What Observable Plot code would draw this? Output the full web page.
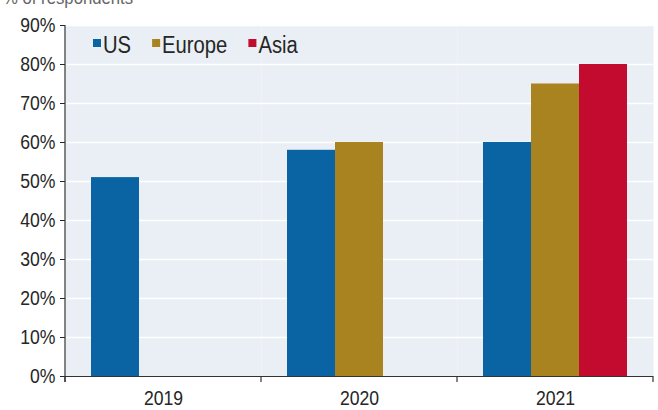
<!DOCTYPE html>
<html><head><meta charset="utf-8">
<script src="https://cdn.jsdelivr.net/npm/d3@7"></script>
<script src="https://cdn.jsdelivr.net/npm/@observablehq/plot@0.6"></script>
<style>
body{margin:0;background:#fff;}
#wrap{position:relative;width:658px;height:410px;overflow:hidden;font-family:"Liberation Sans",Arial,sans-serif;color:#333;}
#unit{position:absolute;left:3px;top:-12px;font-size:19px;line-height:20px;white-space:nowrap;color:#666;transform:scaleX(0.88);transform-origin:left top;}
</style></head><body><div id="wrap"><div id="unit"></div></div>
<script>
const years = ["2019", "2020", "2021"];
const series = ["US", "Europe", "Asia"];
const seriesColors = ["#0a64a4", "#a8831f", "#c20b2f"];
const usValues = [51, 58, 60];
const europeValues = [null, 60, 75];
const asiaValues = [null, null, 80];
const yTicks = [0, 10, 20, 30, 40, 50, 60, 70, 80, 90];
const unitLabel = "% of respondents";

const valuesBySeries = {US: usValues, Europe: europeValues, Asia: asiaValues};
const data = [];
series.forEach(s => valuesBySeries[s].forEach((v, i) => {
  if (v != null) data.push({year: years[i], series: s, value: v});
}));

const font = '"Liberation Sans",Arial,sans-serif';
const chart = Plot.plot({
  width: 658, height: 410,
  marginLeft: 65, marginRight: 5, marginTop: 25, marginBottom: 34,
  style: {fontFamily: font, fontSize: "20px", color: "#262626", background: "transparent", overflow: "visible"},
  fx: {domain: years, padding: 0, label: null},
  x: {domain: series, paddingInner: 0, paddingOuter: 0.54, axis: null},
  y: {domain: [0, 90], label: null},
  color: {domain: series, range: seriesColors},
  marks: [
    Plot.frame({fill: "#e9eff4", stroke: null}),
    Plot.ruleY(yTicks.slice(1), {stroke: "#ffffff", strokeWidth: 1.5}),
    Plot.barY(data, {fx: "year", x: "series", y: "value", fill: "series"}),
    Plot.ruleY([0], {stroke: "#333", strokeWidth: 1.2}),
    Plot.axisY({ticks: yTicks, tickFormat: d => d + "%", tickSize: 5, tickPadding: 5, label: null, fontSize: 20}),
    Plot.axisFx({anchor: "bottom", tickSize: 0, tickPadding: 14, label: null, fontSize: 20})
  ]
});

const wrap = document.getElementById("wrap");
wrap.appendChild(chart);
document.getElementById("unit").textContent = unitLabel;

const svg = d3.select(chart);
const squeeze = 0.88;
function condense(sel) {
  sel.each(function () {
    const L = this.getComputedTextLength();
    if (L > 0) { this.setAttribute("textLength", L * squeeze); this.setAttribute("lengthAdjust", "spacingAndGlyphs"); }
  });
}
condense(svg.selectAll("text"));

// axis lines and boundary ticks, placed from the chart's own scales
const fx = chart.scale("fx"), y = chart.scale("y");
const y0 = y.apply(0), yTop = y.apply(90);
const left = fx.apply(years[0]);
const g = svg.append("g").attr("stroke", "#333").attr("stroke-width", 1.2);
g.append("line").attr("x1", left).attr("x2", left).attr("y1", yTop).attr("y2", y0 + 6);
const edges = years.map(v => fx.apply(v)).concat([fx.apply(years[years.length - 1]) + fx.bandwidth]);
edges.forEach(e => g.append("line").attr("x1", e).attr("x2", e).attr("y1", y0).attr("y2", y0 + 6));

// legend (inside the plot area, top-left)
const lg = svg.append("g").attr("font-family", font).attr("font-size", 23).attr("fill", "#262626").attr("text-anchor", "start");
let lx = left + 28;
const baseY = yTop + 28;
series.forEach((s, i) => {
  lg.append("rect").attr("x", lx).attr("y", baseY - 14).attr("width", 8).attr("height", 8).attr("fill", seriesColors[i]);
  const t = lg.append("text").attr("x", lx + 10).attr("y", baseY).attr("text-anchor", "start").text(s);
  const L = t.node().getComputedTextLength() * squeeze;
  t.attr("textLength", L).attr("lengthAdjust", "spacingAndGlyphs");
  lx += 10 + L + 21;
});
</script>
</body></html>
